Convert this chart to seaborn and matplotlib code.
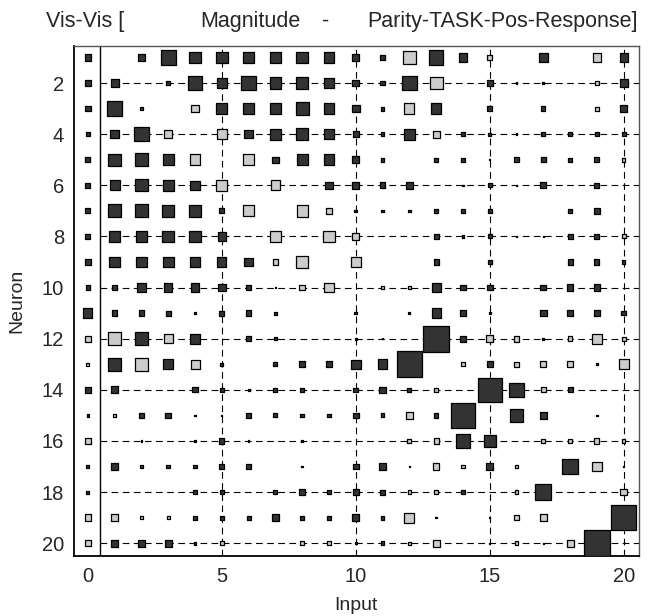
import numpy as np
import pandas as pd
import matplotlib
matplotlib.use("Agg")
import matplotlib.pyplot as plt
import seaborn as sns

# Hinton weights: square side as fraction of a cell, sign = colour
# (positive = dark, negative = light), rows = neurons 1..20, cols = inputs 0..20
neurons = list(range(1, 21))
inputs = list(range(0, 21))
weights = [
    [0.25, 0, 0.30, 0.60, 0.45, 0.45, 0.45, 0.45, 0.45, 0.42, 0.27, 0.22, -0.50, 0.55, 0.33, -0.18, 0, 0.36, 0, -0.33, 0.32],
    [0.25, 0.30, 0, 0.15, 0.57, 0.38, 0.57, 0.44, 0.45, 0.42, 0.27, 0.17, 0.56, -0.50, 0, 0.22, 0.07, 0.07, 0, -0.15, 0.30],
    [0.22, 0.60, 0.12, 0, -0.30, 0.42, 0.44, 0.45, 0.50, 0.42, 0.30, 0.15, -0.40, 0.40, 0, 0.20, 0, 0.17, 0, -0.15, 0.28],
    [0.18, 0.33, 0.57, -0.30, 0, -0.38, 0.33, 0.42, 0.46, 0.38, 0.25, 0.15, 0.44, -0.28, 0.15, 0.12, 0.06, 0.17, 0.17, 0.16, 0.17],
    [0.20, 0.48, 0.50, 0.44, -0.42, 0, -0.44, 0.25, 0.44, 0.42, 0.28, 0.14, 0, 0.14, 0.17, 0.05, 0.20, 0.20, 0.15, 0.20, -0.14],
    [0.20, 0.38, 0.48, 0.44, 0.36, -0.42, 0, -0.38, 0, 0.28, 0.28, 0.22, 0.25, 0, 0.06, 0.15, 0.06, 0.22, 0, 0.20, 0],
    [0.20, 0.50, 0.50, 0.48, 0.48, 0.20, -0.42, 0, -0.44, -0.22, 0.10, 0.10, 0.10, 0.14, 0.17, 0.17, 0, 0, 0.17, 0.25, 0],
    [0.20, 0.42, 0.42, 0.46, 0.44, 0.33, 0, -0.42, 0, -0.44, -0.26, 0, 0, 0.20, 0.10, 0.15, 0.06, 0.06, 0.20, 0.20, -0.15],
    [0.24, 0.42, 0.42, 0.42, 0.42, 0.36, 0.32, -0.22, -0.46, 0, -0.38, 0, 0, 0.20, 0, 0.15, 0, 0, 0.20, 0.20, 0.13],
    [0.17, 0.22, 0.33, 0.33, 0.33, 0.30, 0.20, 0.06, -0.22, -0.38, 0, -0.10, -0.10, 0.36, 0.22, 0.22, 0, 0.22, 0.24, 0.24, 0],
    [0.36, 0.22, 0.22, 0.20, 0.08, 0.20, 0.22, 0.12, 0, 0, 0.10, 0, 0.07, 0.36, 0.22, 0.06, 0, 0.25, 0.22, 0.22, 0.18],
    [-0.22, -0.50, 0.50, -0.34, 0.40, 0, 0.20, 0.10, 0, 0, 0.07, 0.06, 0, 1.0, 0.22, -0.28, -0.22, 0.07, -0.18, -0.38, -0.16],
    [-0.12, 0.50, -0.50, 0.38, -0.35, 0.13, 0, 0.15, 0.22, 0.25, 0.37, 0.38, 1.0, 0, -0.15, 0.22, -0.20, -0.24, -0.22, 0.07, -0.38],
    [0.25, 0.27, 0, 0, 0.20, 0.17, 0.07, 0.15, 0.15, 0, 0.18, 0.25, 0.15, -0.16, 0, 0.92, 0.56, -0.20, 0.20, 0, 0],
    [0.10, -0.14, 0.22, 0.22, 0.06, 0.05, 0.18, 0.16, 0.14, 0.14, 0.22, 0.15, -0.25, 0.18, 0.95, 0, 0.50, 0.27, 0, 0.06, 0],
    [-0.22, 0, 0.07, 0, 0.07, 0.20, 0.06, 0, 0.10, 0, 0, 0, -0.15, -0.20, 0.55, 0.46, 0, -0.16, -0.15, -0.20, -0.14],
    [0.12, 0.28, 0.15, 0.15, 0.15, 0.20, 0.20, 0, 0.06, 0, 0.22, 0.27, 0.06, -0.26, -0.13, 0.27, -0.13, 0, 0.62, -0.36, 0.06],
    [0.12, 0, 0, 0, 0.14, 0.14, 0, 0.16, 0.24, 0.14, 0.25, 0.20, -0.13, -0.15, 0.14, 0, -0.13, 0.62, 0, 0, -0.25],
    [-0.25, -0.28, -0.12, -0.13, 0.15, 0.15, 0.16, 0.28, 0.15, 0.15, 0.27, 0.15, -0.40, 0.06, 0, 0.04, -0.18, -0.28, 0, 0, 0.98],
    [-0.22, 0.28, 0.28, 0.28, 0.10, -0.14, 0, 0, -0.14, -0.14, 0.06, 0.14, -0.13, -0.28, 0, 0.04, -0.15, 0.05, -0.28, 1.0, 0],
]
xticks = [0, 5, 10, 15, 20]
yticks = [2, 4, 6, 8, 10, 12, 14, 16, 18, 20]

rows = []
for i, n in enumerate(neurons):
    for j, inp in enumerate(inputs):
        w = weights[i][j]
        if w != 0:
            rows.append({"input": inp, "neuron": n, "area": w ** 2,
                         "sign": "pos" if w > 0 else "neg"})
df = pd.DataFrame(rows)

sns.set_style("white")
plt.rcParams["font.family"] = ["Liberation Sans", "DejaVu Sans"]

fig = plt.figure(figsize=(6.66, 6.16), dpi=100)
ax = fig.add_axes([0.111, 0.0974, 0.848, 0.828])

# separator line + dashed guide lines
ax.axvline(0.45, color="black", lw=1.0, zorder=1)
for x in [5, 10, 15, 20]:
    ax.axvline(x, color="black", lw=0.8, ls=(0, (6, 4)), zorder=1)
ax.hlines(yticks, 0.45, 20.6, color="black", lw=0.8, linestyles=(0, (6, 4)), zorder=1)

sns.scatterplot(data=df, x="input", y="neuron", hue="sign",
                palette={"pos": "#333333", "neg": "#cccccc"},
                size="area", sizes=(0, 18.5 ** 2), size_norm=(0, 1),
                marker="s", edgecolor="black", linewidth=0.9,
                legend=False, ax=ax, zorder=3)

ax.set_xlim(-0.52, 20.56)
ax.set_ylim(20.5, 0.55)
ax.set_xticks(xticks)
ax.set_yticks(yticks)
ax.tick_params(axis="x", direction="in", length=5, labelsize=14.5, pad=8)
ax.tick_params(axis="y", length=0, labelsize=14.5, pad=7)
ax.set_xlabel("Input", fontsize=14, labelpad=8)
ax.set_ylabel("Neuron", fontsize=14, labelpad=12)
for side in ["left", "bottom"]:
    ax.spines[side].set_linewidth(1.3)
    ax.spines[side].set_color("black")
for side in ["top", "right"]:
    ax.spines[side].set_linewidth(1.0)
    ax.spines[side].set_color("#555555")

ty = 1 - 21 / 616
fig.text(46 / 666, ty, "Vis-Vis [", fontsize=15.5, va="center", ha="left")
fig.text(200 / 666, ty, "Magnitude", fontsize=15.5, va="center", ha="left")
fig.text(326 / 666, ty, "-", fontsize=15.5, va="center", ha="center")
fig.text(638 / 666, ty, "Parity-TASK-Pos-Response]", fontsize=15.5, va="center", ha="right")

fig.savefig("out.png", dpi=100)
